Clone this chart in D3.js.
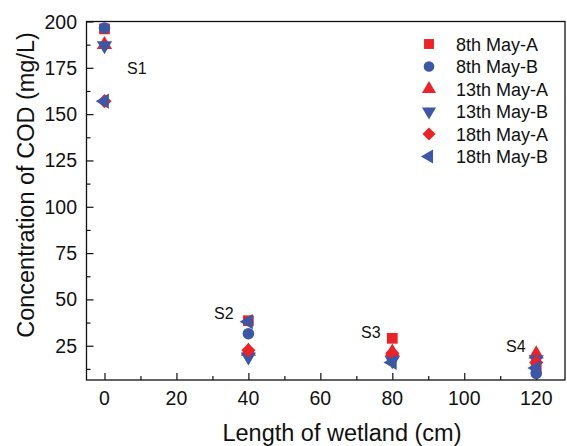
<!DOCTYPE html>
<html>
<head>
<meta charset="utf-8">
<script src="https://cdn.jsdelivr.net/npm/d3@7"></script>
<style>
  body { margin: 0; background: #fff; }
  text { font-family: "Liberation Sans", Arial, sans-serif; fill: #111; }
</style>
</head>
<body>
<svg width="567" height="446"></svg>
<script>
// Sampling positions along the wetland (cm).
const lengths = [0, 40, 80, 120];
const sites = ["S1", "S2", "S3", "S4"];

// COD readings per sampling run (mg/L).
const may8A  = [196, 38.5, 29, 13];
const may8B  = [196.5, 31.5, 20, 10];
const may13A = [187.5, 22, 21.5, 20.5];
const may13B = [187, 19, 17, 17.5];
const may18A = [157, 22.5, 21, 16];
const may18B = [157, 38, 16, 13];

const seriesNames = ["8th May-A", "8th May-B", "13th May-A", "13th May-B", "18th May-A", "18th May-B"];

const red = "#ec2227";
const blue = "#3b57a5";

// diamond = square turned 45 degrees, like the Origin marker
const series = [
  { name: seriesNames[0], values: may8A,  color: red,  symbol: d3.symbolSquare, size: 115, rot: 0 },
  { name: seriesNames[1], values: may8B,  color: blue, symbol: d3.symbolCircle, size: 105, rot: 0 },
  { name: seriesNames[2], values: may13A, color: red,  symbol: d3.symbolTriangle, size: 100, rot: 0 },
  { name: seriesNames[3], values: may13B, color: blue, symbol: d3.symbolTriangle, size: 100, rot: 180 },
  { name: seriesNames[4], values: may18A, color: red,  symbol: d3.symbolSquare, size: 100, rot: 45 },
  { name: seriesNames[5], values: may18B, color: blue, symbol: d3.symbolTriangle, size: 100, rot: -90 }
];

const svg = d3.select("svg");

const plotLeft = 86.5, plotRight = 565, plotTop = 21.5, plotBottom = 380;

const x = d3.scaleLinear().domain([-5, 128]).range([plotLeft, plotRight]);
const y = d3.scaleLinear().domain([6.5, 200]).range([plotBottom, plotTop]);

// Frame
svg.append("rect")
  .attr("x", plotLeft).attr("y", plotTop)
  .attr("width", plotRight - plotLeft).attr("height", plotBottom - plotTop)
  .attr("fill", "none").attr("stroke", "#111").attr("stroke-width", 1.3);

// X axis: ticks inward
const xAxis = svg.append("g").attr("transform", `translate(0,${plotBottom})`);
xAxis.call(d3.axisTop(x).tickValues(d3.range(0, 121, 10)).tickSize(6).tickFormat(""))
  .call(g => g.select(".domain").remove())
  .call(g => g.selectAll(".tick line").attr("stroke", "#111").attr("stroke-width", 1.2)
    .attr("y2", d => d % 20 === 0 ? -7 : -4));
svg.append("g").selectAll("text")
  .data(d3.range(0, 121, 20))
  .join("text")
  .attr("x", d => x(d)).attr("y", 405)
  .attr("text-anchor", "middle")
  .attr("font-size", 19.5)
  .text(d => d);

// Y axis: ticks inward
const yAxis = svg.append("g").attr("transform", `translate(${plotLeft},0)`);
yAxis.call(d3.axisRight(y).tickValues(d3.range(12.5, 201, 12.5)).tickSize(6).tickFormat(""))
  .call(g => g.select(".domain").remove())
  .call(g => g.selectAll(".tick line").attr("stroke", "#111").attr("stroke-width", 1.2)
    .attr("x2", d => d % 25 === 0 ? 7 : 4));
svg.append("g").selectAll("text")
  .data(d3.range(25, 201, 25))
  .join("text")
  .attr("x", 77).attr("y", d => y(d) + 7)
  .attr("text-anchor", "end")
  .attr("font-size", 19.5)
  .text(d => d);

// Axis titles
svg.append("text")
  .attr("x", 342).attr("y", 441)
  .attr("text-anchor", "middle")
  .attr("font-size", 23.5)
  .text("Length of wetland (cm)");
svg.append("text")
  .attr("transform", "translate(34,185) rotate(-90)")
  .attr("text-anchor", "middle")
  .attr("font-size", 23.5)
  .text("Concentration of COD (mg/L)");

// Points
series.forEach(s => {
  svg.append("g").selectAll("path")
    .data(s.values.map((v, i) => [lengths[i], v]))
    .join("path")
    .attr("d", d3.symbol().type(s.symbol).size(s.size))
    .attr("transform", d => `translate(${x(d[0])},${y(d[1])}) rotate(${s.rot})`)
    .attr("fill", s.color);
});

// Site labels
const siteLabelPos = [[127, 74], [214, 319], [361, 338], [506, 352]];
svg.append("g").selectAll("text")
  .data(sites)
  .join("text")
  .attr("x", (d, i) => siteLabelPos[i][0])
  .attr("y", (d, i) => siteLabelPos[i][1])
  .attr("font-size", 16)
  .text(d => d);

// Legend
const legend = svg.append("g").attr("transform", "translate(429,44)");
series.forEach((s, i) => {
  const row = legend.append("g").attr("transform", `translate(0,${i * 22.5})`);
  row.append("path")
    .attr("d", d3.symbol().type(s.symbol).size(s.size * 0.85))
    .attr("transform", `rotate(${s.rot})`)
    .attr("fill", s.color);
  row.append("text")
    .attr("x", 27).attr("y", 6.5)
    .attr("font-size", 18)
    .text(s.name);
});
</script>
</body>
</html>
